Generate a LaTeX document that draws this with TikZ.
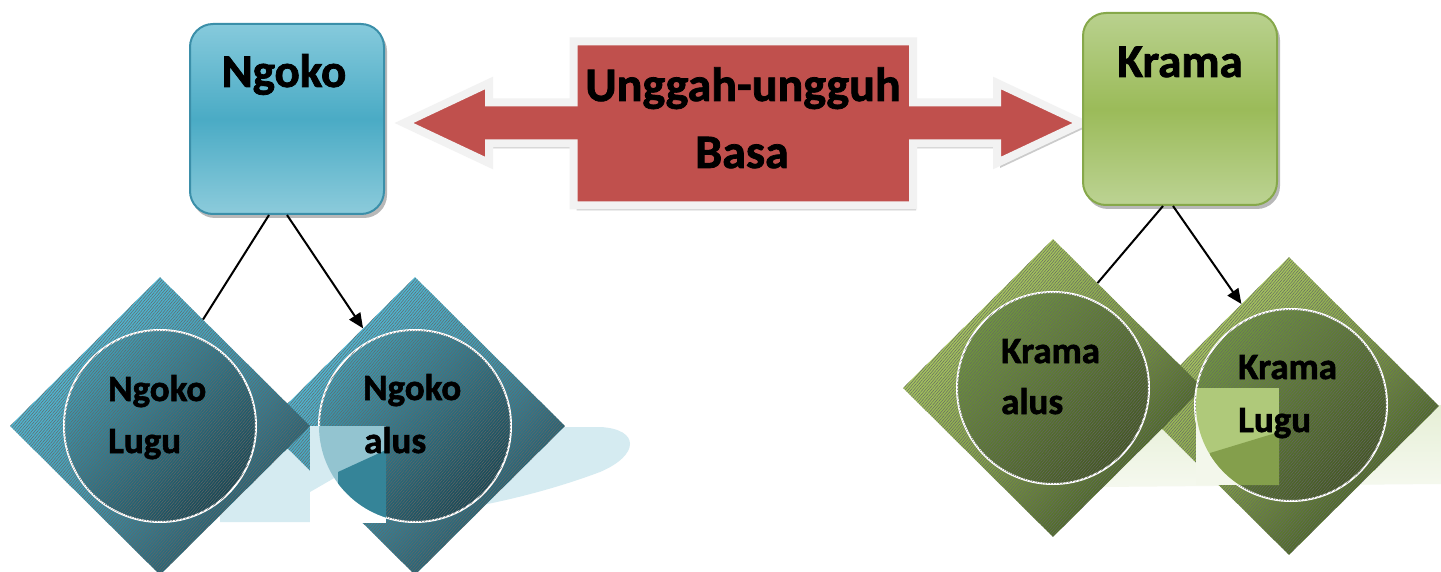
\documentclass[tikz,border=0pt]{standalone}
\usepackage{fontspec}
\setmainfont{Carlito}[BoldFeatures={FakeBold=1.6}]
\usetikzlibrary{arrows.meta,shapes.geometric,patterns.meta}
\definecolor{ngtop}{HTML}{86CADC}
\definecolor{ngmid}{HTML}{4AABC5}
\definecolor{ngbot}{HTML}{8CCBDB}
\definecolor{ngline}{HTML}{3B8FA9}
\definecolor{krtop}{HTML}{B9D18E}
\definecolor{krmid}{HTML}{9BBB59}
\definecolor{krbot}{HTML}{BCD393}
\definecolor{krline}{HTML}{86A84A}
\definecolor{arrred}{HTML}{C0504D}
\definecolor{dbl}{HTML}{55C2DF}
\definecolor{dbm}{HTML}{4099B1}
\definecolor{dbd}{HTML}{1F4F5D}
\definecolor{cbl}{HTML}{41A0B8}
\definecolor{cbd}{HTML}{174754}
\definecolor{cblpatch}{HTML}{3B93A9}
\definecolor{dgl}{HTML}{B2D366}
\definecolor{dgm}{HTML}{84A447}
\definecolor{dgd}{HTML}{3A561B}
\definecolor{dglpatch}{HTML}{9BBB59}
\definecolor{cgl}{HTML}{71993E}
\definecolor{cgd}{HTML}{435722}
\definecolor{shblue}{HTML}{D5EBF1}
\definecolor{shgreen}{HTML}{E6EFD6}
\begin{document}
\begin{tikzpicture}[x=1pt,y=-1pt,
  boxnode/.style={rectangle, rounded corners=23pt, minimum width=194pt, minimum height=190pt, line width=2pt, inner sep=0pt},
  boxshadow/.style={fill=black, opacity=0.28, rounded corners=23pt},
  hatch/.style={postaction={pattern={Lines[angle=50,distance=2.2pt,line width=0.5pt]}, pattern color=black!60, fill opacity=0.06}},
  diam/.style={diamond, aspect=1, minimum width=300pt, minimum height=298pt, inner sep=0pt, hatch},
  ring/.style={circle, minimum size=192pt, inner sep=0pt, draw=white, line width=2pt, hatch},
  boxlbl/.style={font=\fontsize{47}{47}\selectfont\bfseries, inner sep=0pt, anchor=base},
  midlbl/.style={font=\fontsize{48}{48}\selectfont\bfseries, inner sep=0pt, anchor=base},
  dlbl/.style={font=\fontsize{37}{37}\selectfont\bfseries, inner sep=0pt, anchor=base west},
  conn/.style={line width=2pt, black},
  arr/.style={conn, -{Triangle[length=15pt,width=13pt]}}
]
\useasboundingbox (0,0) rectangle (1441,572);
\fill[white] (0,0) rectangle (1441,572);

% reflection shadows
\fill[shblue] (220,427) -- (600,427) .. controls (640,429) and (640,455) .. (600,472)
  .. controls (520,502) and (420,521) .. (320,522) -- (220,522) -- cycle;
\shade[top color=shgreen, bottom color=shgreen!40] (1100,405) -- (1441,405) -- (1441,484) -- (1100,487) -- cycle;

% central double arrow
\begin{scope}[shift={(3,5)}]
\fill[black!45, opacity=0.45] (404,123) -- (489,83) -- (489,102.5) -- (573.5,102.5) -- (573.5,41.5)
  -- (913,41.5) -- (913,102.5) -- (997,102.5) -- (997,83) -- (1082,123) -- (997,163)
  -- (997,143.5) -- (913,143.5) -- (913,205.5) -- (573.5,205.5) -- (573.5,143.5)
  -- (489,143.5) -- (489,163) -- cycle;
\end{scope}
\path[fill=arrred, draw=white!95!black, line width=8pt, line join=miter]
  (404,123) -- (489,83) -- (489,102.5) -- (573.5,102.5) -- (573.5,41.5)
  -- (913,41.5) -- (913,102.5) -- (997,102.5) -- (997,83) -- (1082,123) -- (997,163)
  -- (997,143.5) -- (913,143.5) -- (913,205.5) -- (573.5,205.5) -- (573.5,143.5)
  -- (489,143.5) -- (489,163) -- cycle;
\node[midlbl] (ungg) at (743,101) {Unggah-ungguh};
\node[midlbl] (basa) at (742,168) {Basa};

% top boxes
\fill[boxshadow] (192,28) rectangle (387,218);
\node[boxnode, draw=ngline, top color=ngtop, bottom color=ngbot, middle color=ngmid] (ngoko) at (287,119) {};
\node[boxlbl] (ngokot) at (284,87) {Ngoko};
\fill[boxshadow] (1085,17) rectangle (1280,209);
\node[boxnode, minimum height=192pt, draw=krline, top color=krtop, bottom color=krbot, middle color=krmid] (krama) at (1180,109) {};
\node[boxlbl] (kramat) at (1180,77) {Krama};

% diamonds (the left one of each pair lies on top)
\node[diam, top color=dbl, bottom color=dbd, middle color=dbm, shading angle=45] (nalus) at (415,426) {};
\node[diam, top color=dbl, bottom color=dbd, middle color=dbm, shading angle=45] (nlugu) at (160,426) {};
\node[diam, top color=dgl, bottom color=dgd, middle color=dgm, shading angle=45] (klugu) at (1289,406) {};
\node[diam, top color=dgl, bottom color=dgd, middle color=dgm, shading angle=45] (kalus) at (1053,388) {};

% circles
\node[ring, top color=cbl, bottom color=cbd, shading angle=45] (cnlugu) at (160,426) {};
\node[ring, top color=cbl, bottom color=cbd, shading angle=45] (cnalus) at (415,426) {};
\node[ring, top color=cgl, bottom color=cgd, shading angle=45] (ckalus) at (1053,388) {};
\node[ring, top color=cgl, bottom color=cgd, shading angle=45] (cklugu) at (1291,405) {};

% connectors
\draw[conn] ([xshift=-18pt]ngoko.south) -- (nlugu.68);
\draw[arr] (ngoko.south) -- (nalus.118);
\draw[conn] ([xshift=-17pt]krama.south) -- (kalus.67);
\draw[arr] ([xshift=-7pt]krama.south) -- (klugu.115);

% reflection patches
\begin{scope}
\clip (310,426) rectangle (386,523);
\fill[white] (310,426) rectangle (386,523);
\fill[shblue] (310,426) -- (350,426) -- (336,477) -- (310,492) -- cycle;
\begin{scope}
\clip (415,426) circle (96);
\fill[cblpatch!55!white] (310,426) rectangle (386,523);
\fill[cblpatch!90!black] (338,472) -- (386,450) -- (386,523) -- (338,523) -- cycle;
\end{scope}
\end{scope}
\begin{scope}
\clip (1196,388) rectangle (1279,485);
\fill[shgreen!50!white] (1196,388) rectangle (1279,485);
\begin{scope}
\clip (1291,405) circle (95);
\fill[dglpatch!80!white] (1190,388) rectangle (1279,485);
\fill[dglpatch!85!black] (1210,453) -- (1279,432) -- (1279,485) -- (1210,485) -- cycle;
\end{scope}
\end{scope}

% labels
\node[dlbl] (t1a) at (108,401) {Ngoko};
\node[dlbl] (t1b) at (108,453) {Lugu};
\node[dlbl] (t2a) at (363,400) {Ngoko};
\node[dlbl] (t2b) at (364,453) {alus};
\node[dlbl] (t3a) at (1001,363) {Krama};
\node[dlbl] (t3b) at (1001,414) {alus};
\node[dlbl] (t4a) at (1238,379) {Krama};
\node[dlbl] (t4b) at (1238,432) {Lugu};
\end{tikzpicture}
\end{document}
